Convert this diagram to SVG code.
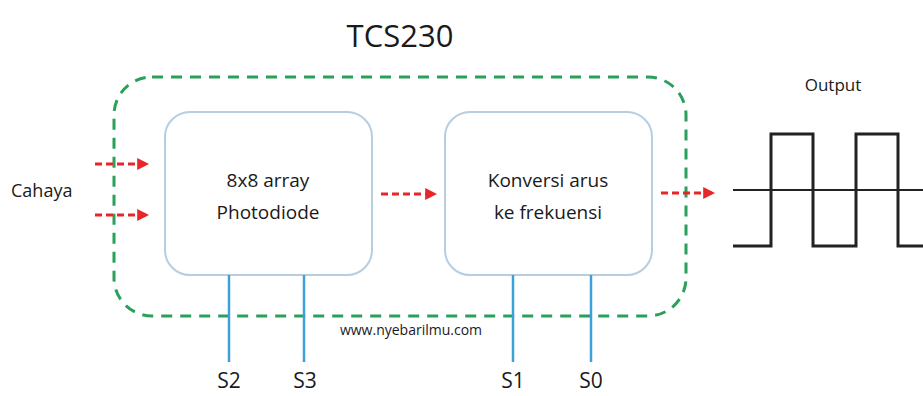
<svg xmlns="http://www.w3.org/2000/svg" width="923" height="396" viewBox="0 0 923 396">
<defs>
<marker id="ah" viewBox="0 0 10 10" refX="9" refY="5" markerWidth="4" markerHeight="4" orient="auto" markerUnits="strokeWidth">
<path d="M0,0 L10,5 L0,10 z" fill="#e8262a"/>
</marker>
</defs>
<style>
text{font-family:"Open Sans","DejaVu Sans",sans-serif;fill:#1a1a1a}
.box{fill:#fff;stroke:#b7cde0;stroke-width:2}
.pin{stroke:#3ea0d8;stroke-width:2.5}
.red{stroke:#e8262a;stroke-width:3;stroke-dasharray:7 4;fill:none}
.wave{stroke:#222;stroke-width:3;fill:none}
</style>
<rect width="923" height="396" fill="#fff"/>
<text x="400" y="47" font-size="31" text-anchor="middle">TCS230</text>
<g id="enclosure">
<rect x="114" y="77" width="572" height="239" rx="38" ry="38" fill="none" stroke="#2aa05a" stroke-width="3" stroke-dasharray="11 8"/>
</g>
<g id="photodiode">
<rect class="box" x="165" y="112" width="207" height="163" rx="25" ry="25"/>
<text x="268" y="187" font-size="19" text-anchor="middle">8x8 array</text>
<text x="268" y="219" font-size="19" text-anchor="middle">Photodiode</text>
</g>
<g id="konversi">
<rect class="box" x="445" y="112" width="207" height="163" rx="25" ry="25"/>
<text x="548" y="187" font-size="19" text-anchor="middle">Konversi arus</text>
<text x="548" y="219" font-size="19" text-anchor="middle">ke frekuensi</text>
</g>
<g id="cahaya"><text x="11" y="197" font-size="18">Cahaya</text></g>
<g id="output">
<text x="833" y="91" font-size="17" text-anchor="middle">Output</text>
<path class="wave" d="M733,246 H771 V134 H813 V246 H856 V134 H898 V246 H923"/>
<line x1="733" y1="190" x2="923" y2="190" stroke="#222" stroke-width="2"/>
</g>
<g id="pins">
<text x="229" y="388" font-size="21" text-anchor="middle">S2</text>
<text x="305" y="388" font-size="21" text-anchor="middle">S3</text>
<text x="513" y="388" font-size="21" text-anchor="middle">S1</text>
<text x="591" y="388" font-size="21" text-anchor="middle">S0</text>
</g>
<text x="411" y="335" font-size="14" text-anchor="middle">www.nyebarilmu.com</text>
<g id="connectors">
<line class="red" x1="95" y1="164" x2="148" y2="164" marker-end="url(#ah)"/>
<line class="red" x1="95" y1="215" x2="148" y2="215" marker-end="url(#ah)"/>
<line class="red" x1="381" y1="194" x2="436" y2="194" marker-end="url(#ah)"/>
<line class="red" x1="661" y1="193" x2="714" y2="193" marker-end="url(#ah)"/>
<line class="pin" x1="229" y1="275" x2="229" y2="362"/>
<line class="pin" x1="304" y1="275" x2="304" y2="362"/>
<line class="pin" x1="513" y1="275" x2="513" y2="362"/>
<line class="pin" x1="591" y1="275" x2="591" y2="362"/>
</g>
</svg>
